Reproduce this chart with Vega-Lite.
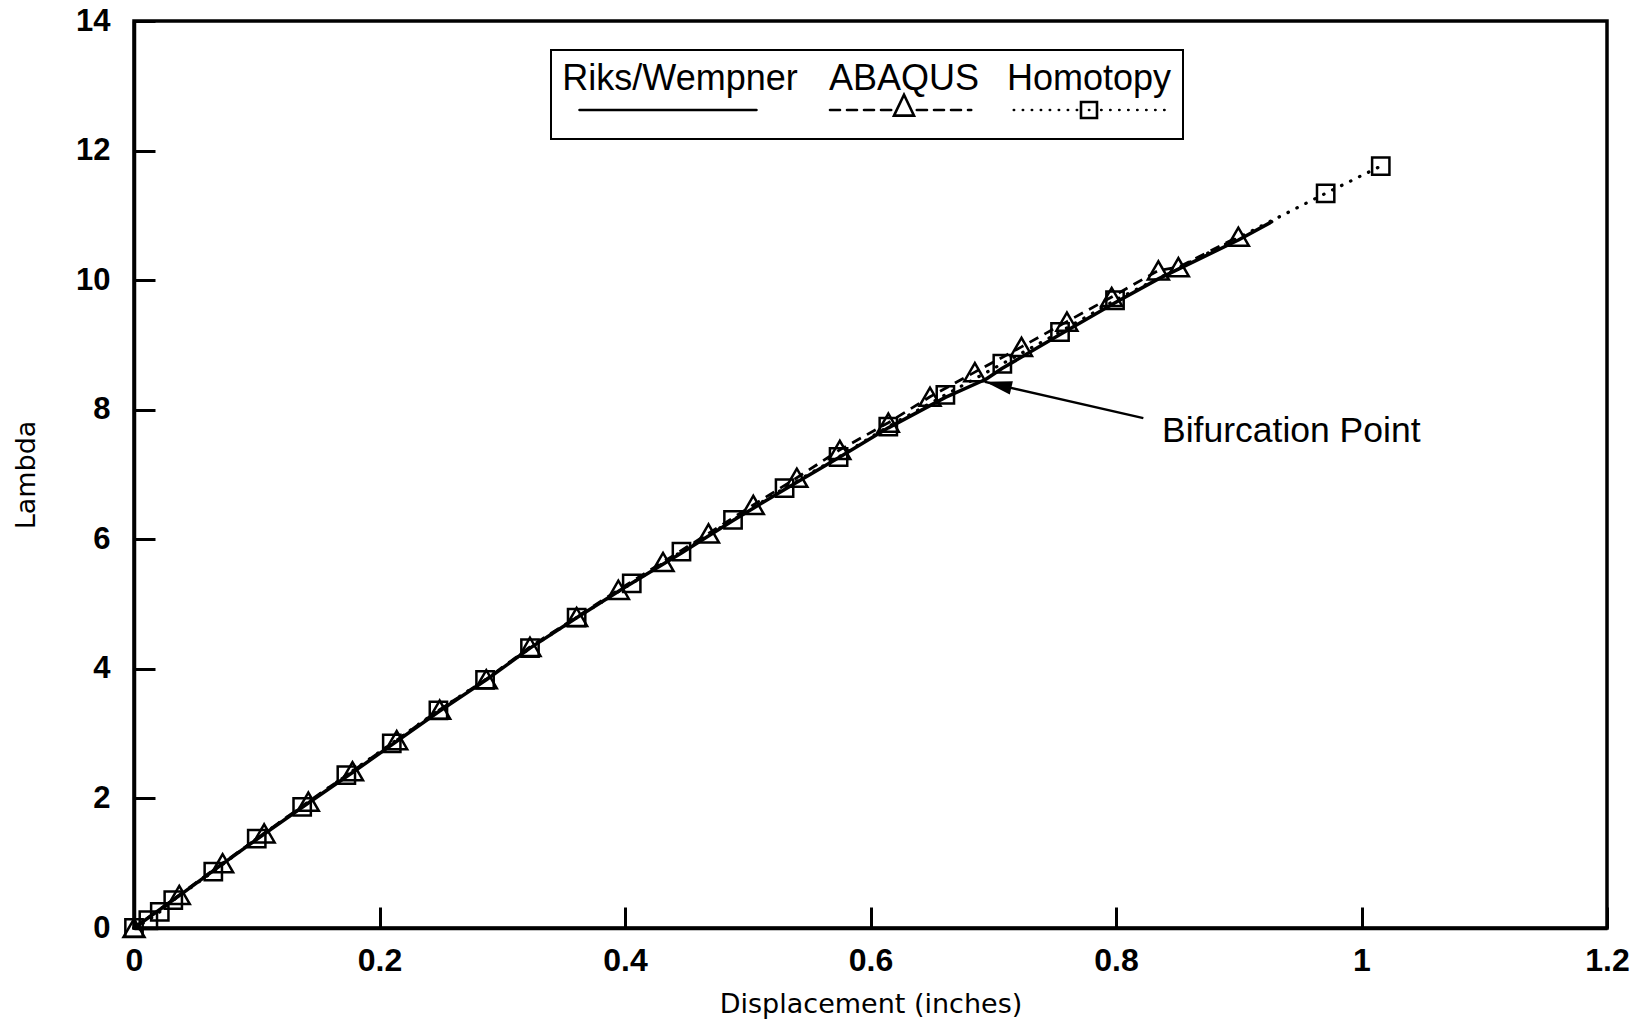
{
  "$schema": "https://vega.github.io/schema/vega-lite/v6.json",
  "width": 1473,
  "height": 907,
  "autosize": {"type": "none"},
  "padding": {"left": 134, "top": 21, "right": 37, "bottom": 94},
  "background": "white",
  "datasets": {
    "curves": [
      {"series": "Riks/Wempner", "x": 0, "y": 0},
      {"series": "Riks/Wempner", "x": 0.0369, "y": 0.5},
      {"series": "Riks/Wempner", "x": 0.0722, "y": 0.99},
      {"series": "Riks/Wempner", "x": 0.106, "y": 1.45},
      {"series": "Riks/Wempner", "x": 0.142, "y": 1.93},
      {"series": "Riks/Wempner", "x": 0.178, "y": 2.4},
      {"series": "Riks/Wempner", "x": 0.214, "y": 2.88},
      {"series": "Riks/Wempner", "x": 0.249, "y": 3.35},
      {"series": "Riks/Wempner", "x": 0.287, "y": 3.83},
      {"series": "Riks/Wempner", "x": 0.3226, "y": 4.32},
      {"series": "Riks/Wempner", "x": 0.3606, "y": 4.79},
      {"series": "Riks/Wempner", "x": 0.4, "y": 5.26},
      {"series": "Riks/Wempner", "x": 0.446, "y": 5.79},
      {"series": "Riks/Wempner", "x": 0.488, "y": 6.29},
      {"series": "Riks/Wempner", "x": 0.53, "y": 6.77},
      {"series": "Riks/Wempner", "x": 0.574, "y": 7.26},
      {"series": "Riks/Wempner", "x": 0.6145, "y": 7.72},
      {"series": "Riks/Wempner", "x": 0.661, "y": 8.19},
      {"series": "Riks/Wempner", "x": 0.694, "y": 8.47},
      {"series": "Riks/Wempner", "x": 0.7074, "y": 8.64},
      {"series": "Riks/Wempner", "x": 0.7544, "y": 9.16},
      {"series": "Riks/Wempner", "x": 0.7992, "y": 9.65},
      {"series": "Riks/Wempner", "x": 0.8345, "y": 10.02},
      {"series": "Riks/Wempner", "x": 0.8508, "y": 10.17},
      {"series": "Riks/Wempner", "x": 0.8997, "y": 10.62},
      {"series": "Riks/Wempner", "x": 0.9268, "y": 10.9},
      {"series": "ABAQUS", "x": 0, "y": 0},
      {"series": "ABAQUS", "x": 0.0369, "y": 0.51},
      {"series": "ABAQUS", "x": 0.0722, "y": 1.0},
      {"series": "ABAQUS", "x": 0.106, "y": 1.46},
      {"series": "ABAQUS", "x": 0.142, "y": 1.95},
      {"series": "ABAQUS", "x": 0.178, "y": 2.42},
      {"series": "ABAQUS", "x": 0.214, "y": 2.9},
      {"series": "ABAQUS", "x": 0.249, "y": 3.37},
      {"series": "ABAQUS", "x": 0.287, "y": 3.84},
      {"series": "ABAQUS", "x": 0.3226, "y": 4.34},
      {"series": "ABAQUS", "x": 0.3606, "y": 4.8},
      {"series": "ABAQUS", "x": 0.3946, "y": 5.22},
      {"series": "ABAQUS", "x": 0.431, "y": 5.65},
      {"series": "ABAQUS", "x": 0.468, "y": 6.09},
      {"series": "ABAQUS", "x": 0.5045, "y": 6.53},
      {"series": "ABAQUS", "x": 0.54, "y": 6.95},
      {"series": "ABAQUS", "x": 0.575, "y": 7.38},
      {"series": "ABAQUS", "x": 0.6145, "y": 7.8},
      {"series": "ABAQUS", "x": 0.6485, "y": 8.2},
      {"series": "ABAQUS", "x": 0.685, "y": 8.58},
      {"series": "ABAQUS", "x": 0.723, "y": 8.97},
      {"series": "ABAQUS", "x": 0.76, "y": 9.36},
      {"series": "ABAQUS", "x": 0.7965, "y": 9.74},
      {"series": "ABAQUS", "x": 0.8345, "y": 10.15},
      {"series": "ABAQUS", "x": 0.8508, "y": 10.2},
      {"series": "ABAQUS", "x": 0.8997, "y": 10.67},
      {"series": "Homotopy", "x": 0, "y": 0},
      {"series": "Homotopy", "x": 0.0117, "y": 0.12},
      {"series": "Homotopy", "x": 0.021, "y": 0.25},
      {"series": "Homotopy", "x": 0.032, "y": 0.43},
      {"series": "Homotopy", "x": 0.0646, "y": 0.87},
      {"series": "Homotopy", "x": 0.1, "y": 1.38},
      {"series": "Homotopy", "x": 0.137, "y": 1.87},
      {"series": "Homotopy", "x": 0.173, "y": 2.36},
      {"series": "Homotopy", "x": 0.21, "y": 2.85},
      {"series": "Homotopy", "x": 0.248, "y": 3.36},
      {"series": "Homotopy", "x": 0.286, "y": 3.83},
      {"series": "Homotopy", "x": 0.3226, "y": 4.32},
      {"series": "Homotopy", "x": 0.3606, "y": 4.79},
      {"series": "Homotopy", "x": 0.4055, "y": 5.32},
      {"series": "Homotopy", "x": 0.446, "y": 5.81},
      {"series": "Homotopy", "x": 0.488, "y": 6.3},
      {"series": "Homotopy", "x": 0.53, "y": 6.79},
      {"series": "Homotopy", "x": 0.574, "y": 7.27},
      {"series": "Homotopy", "x": 0.6145, "y": 7.74},
      {"series": "Homotopy", "x": 0.661, "y": 8.23},
      {"series": "Homotopy", "x": 0.7074, "y": 8.71},
      {"series": "Homotopy", "x": 0.7544, "y": 9.2},
      {"series": "Homotopy", "x": 0.7992, "y": 9.69},
      {"series": "Homotopy", "x": 0.9708, "y": 11.34},
      {"series": "Homotopy", "x": 1.0157, "y": 11.76}
    ],
    "arrow": [
      {"x": 0.8223, "y": 7.87, "x2": 0.6933, "y2": 8.43}
    ],
    "arrowhead": [
      {"x": 0.6933, "y": 8.43}
    ],
    "note": [
      {"x": 0.8375, "y": 7.67, "label": "Bifurcation Point"}
    ]
  },
  "layer": [
    {
      "data": {"name": "curves"},
      "transform": [{"filter": "datum.series === 'Homotopy'"}],
      "mark": {"type": "line", "strokeWidth": 3.2, "strokeCap": "round", "strokeDash": [0.5, 9.5], "color": "black"},
      "encoding": {
        "x": {
          "field": "x", "type": "quantitative",
          "scale": {"domain": [0, 1.2], "nice": false, "zero": false},
          "axis": {"title": "Displacement (inches)", "values": [0, 0.2, 0.4, 0.6, 0.8, 1, 1.2], "format": "~g"}
        },
        "y": {
          "field": "y", "type": "quantitative",
          "scale": {"domain": [0, 14], "nice": false, "zero": false},
          "axis": {"title": "Lambda", "values": [0, 2, 4, 6, 8, 10, 12, 14], "format": "d"}
        }
      }
    },
    {
      "data": {"name": "curves"},
      "transform": [{"filter": "datum.series === 'ABAQUS'"}],
      "mark": {"type": "line", "strokeWidth": 2.8, "strokeCap": "butt", "strokeDash": [10, 7], "color": "black"},
      "encoding": {
        "x": {"field": "x", "type": "quantitative"},
        "y": {"field": "y", "type": "quantitative"}
      }
    },
    {
      "data": {"name": "curves"},
      "transform": [{"filter": "datum.series === 'Riks/Wempner'"}],
      "mark": {"type": "line", "strokeWidth": 3.5, "strokeCap": "round", "strokeJoin": "round"},
      "encoding": {
        "x": {"field": "x", "type": "quantitative"},
        "y": {"field": "y", "type": "quantitative"},
        "color": {
          "field": "series", "type": "nominal",
          "scale": {"domain": ["Riks/Wempner", "ABAQUS", "Homotopy"], "range": ["black", "black", "black"]},
          "legend": {
            "orient": "none",
            "legendX": 417,
            "legendY": 29,
            "direction": "horizontal",
            "columns": 3,
            "title": null,
            "padding": 11,
            "columnPadding": 26,
            "rowPadding": 0,
            "strokeColor": "black",
            "fillColor": "white",
            "symbolSize": 25600,
            "symbolStrokeWidth": 2.5,
            "symbolStrokeColor": "black",
            "labelFont": "Liberation Sans",
            "labelFontSize": 36,
            "labelColor": "black",
            "labelLimit": 0,
            "labelOffset": 0,
            "labelAlign": "center",
            "labelBaseline": "middle",
            "encode": {
              "legend": {"update": {"strokeWidth": {"value": 2}}},
              "symbols": {
                "update": {
                  "shape": {"signal": "datum.value === 'Riks/Wempner' ? 'M-1.256,0L0.956,0M0,0.16' : datum.value === 'ABAQUS' ? 'M-0.925,0L-0.8,0M-0.7125,0L-0.5875,0M-0.5,0L-0.375,0M-0.2875,0L-0.16,0M0.16,0L0.2875,0M0.375,0L0.5,0M0.5875,0L0.7125,0M0.8,0L0.84,0M-0.125,0.07L0,-0.19L0.125,0.07ZM0,0.16' : 'M-0.94,0L-0.936,0M-0.8275,0L-0.8235,0M-0.715,0L-0.711,0M-0.6025,0L-0.5985,0M-0.49,0L-0.486,0M-0.3775,0L-0.3735,0M-0.265,0L-0.261,0M-0.1525,0L-0.1485,0M0,0L0.004,0M0.1525,0L0.1565,0M0.265,0L0.269,0M0.3775,0L0.3815,0M0.49,0L0.494,0M0.6025,0L0.6065,0M0.715,0L0.719,0M0.8275,0L0.8315,0M0.94,0L0.944,0M-0.1,-0.1L0.1,-0.1L0.1,0.1L-0.1,0.1ZM0,0.16'"},
                  "x": {"signal": "datum.value === 'Riks/Wempner' ? 118 : datum.value === 'ABAQUS' ? 75 : 82"},
                  "y": {"value": 49},
                  "fill": {"value": "transparent"},
                  "stroke": {"value": "black"},
                  "strokeWidth": {"value": 2.6},
                  "strokeCap": {"value": "round"},
                  "opacity": {"value": 1}
                }
              },
              "labels": {
                "update": {
                  "x": {"signal": "datum.value === 'Riks/Wempner' ? 118 : datum.value === 'ABAQUS' ? 75 : 82"},
                  "y": {"value": 18},
                  "align": {"value": "center"},
                  "baseline": {"value": "middle"}
                }
              }
            }
          }
        }
      }
    },
    {
      "data": {"name": "curves"},
      "transform": [{"filter": "datum.series === 'ABAQUS'"}],
      "mark": {"type": "point", "shape": "triangle-up", "size": 440, "filled": false, "stroke": "black", "strokeWidth": 2.5, "opacity": 1},
      "encoding": {
        "x": {"field": "x", "type": "quantitative"},
        "y": {"field": "y", "type": "quantitative"}
      }
    },
    {
      "data": {"name": "curves"},
      "transform": [{"filter": "datum.series === 'Homotopy'"}],
      "mark": {"type": "point", "shape": "square", "size": 300, "filled": false, "stroke": "black", "strokeWidth": 2.5, "opacity": 1},
      "encoding": {
        "x": {"field": "x", "type": "quantitative"},
        "y": {"field": "y", "type": "quantitative"}
      }
    },
    {
      "data": {"name": "arrow"},
      "mark": {"type": "rule", "strokeWidth": 2.4, "color": "black"},
      "encoding": {
        "x": {"field": "x", "type": "quantitative"},
        "y": {"field": "y", "type": "quantitative"},
        "x2": {"field": "x2"},
        "y2": {"field": "y2"}
      }
    },
    {
      "data": {"name": "arrowhead"},
      "mark": {"type": "point", "shape": "M0,0L1,-0.25L1,0.25Z", "size": 2916, "angle": 13, "filled": true, "color": "black", "opacity": 1, "strokeWidth": 0},
      "encoding": {
        "x": {"field": "x", "type": "quantitative"},
        "y": {"field": "y", "type": "quantitative"}
      }
    },
    {
      "data": {"name": "note"},
      "mark": {"type": "text", "align": "left", "baseline": "middle", "font": "Liberation Sans", "fontSize": 35.5, "color": "black"},
      "encoding": {
        "x": {"field": "x", "type": "quantitative"},
        "y": {"field": "y", "type": "quantitative"},
        "text": {"field": "label"}
      }
    }
  ],
  "config": {
    "view": {"stroke": "black", "strokeWidth": 3.5},
    "axis": {
      "domainColor": "black",
      "domainWidth": 3.5,
      "tickColor": "black",
      "tickWidth": 3,
      "tickSize": -21,
      "grid": false,
      "labelColor": "black",
      "labelFont": "Liberation Sans",
      "labelFontWeight": "bold",
      "labelFlush": false,
      "labelOverlap": false,
      "titleColor": "black",
      "titleFont": "DejaVu Sans",
      "titleFontWeight": "normal",
      "titleFontSize": 27
    },
    "axisX": {"labelFontSize": 32, "labelPadding": 38, "titleY": 76, "titleBaseline": "middle"},
    "axisY": {"labelFontSize": 31, "labelPadding": 45, "titleX": -108, "titleY": 453.5, "titleAngle": 270, "titleBaseline": "middle", "titleAlign": "center"}
  }
}
